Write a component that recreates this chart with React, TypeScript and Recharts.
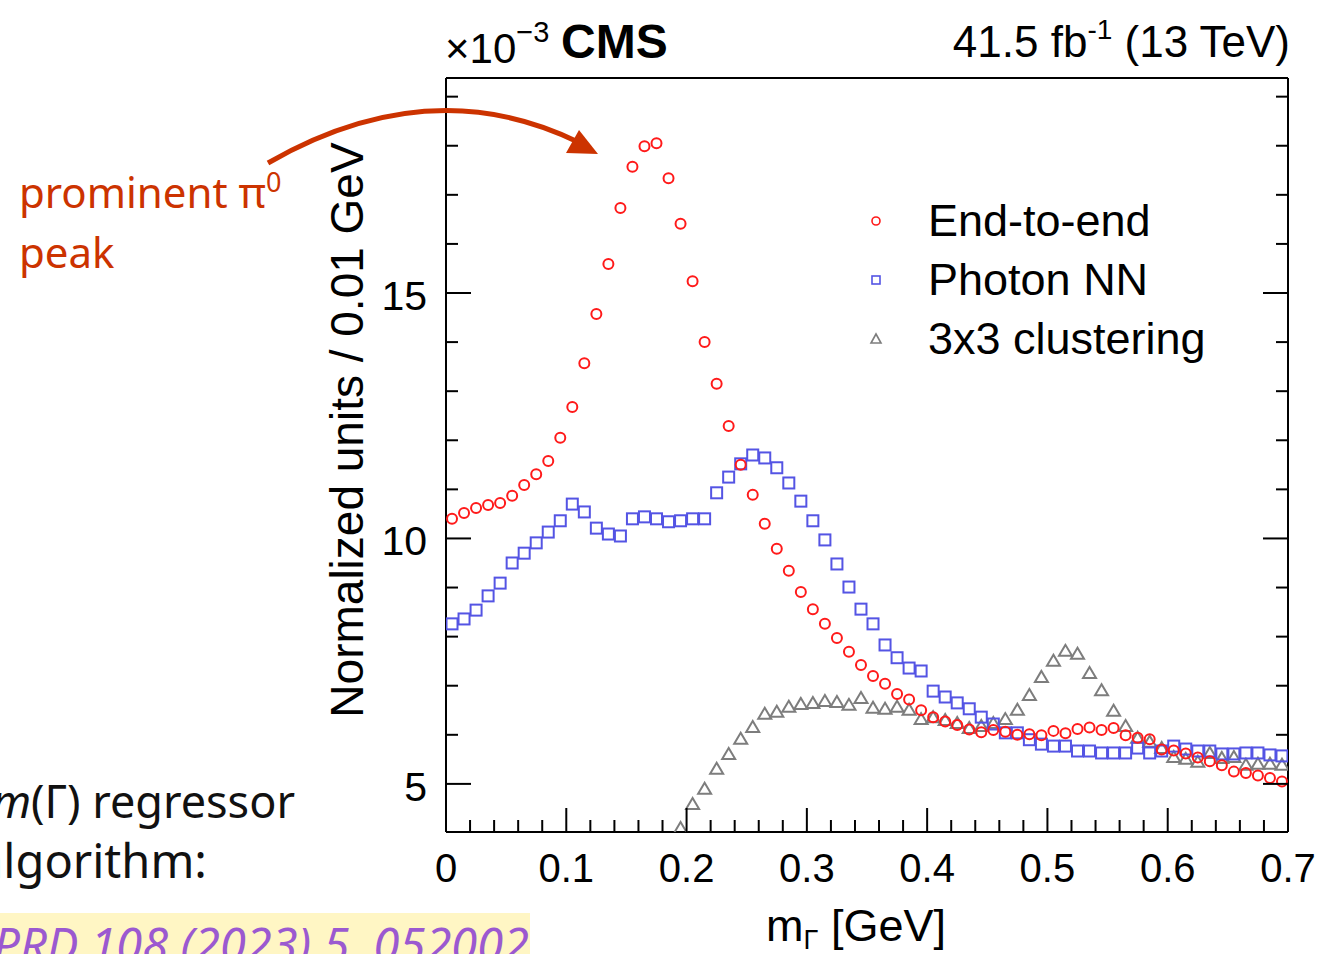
import React from "react";
import { ScatterChart, Scatter, XAxis, YAxis } from "recharts";

// bin centres of the reconstructed mass, 0.01 GeV wide
const massBins = [
  0.005, 0.015, 0.025, 0.035, 0.045, 0.055, 0.065, 0.075, 0.085, 0.095,
  0.105, 0.115, 0.125, 0.135, 0.145, 0.155, 0.165, 0.175, 0.185, 0.195,
  0.205, 0.215, 0.225, 0.235, 0.245, 0.255, 0.265, 0.275, 0.285, 0.295,
  0.305, 0.315, 0.325, 0.335, 0.345, 0.355, 0.365, 0.375, 0.385, 0.395,
  0.405, 0.415, 0.425, 0.435, 0.445, 0.455, 0.465, 0.475, 0.485, 0.495,
  0.505, 0.515, 0.525, 0.535, 0.545, 0.555, 0.565, 0.575, 0.585, 0.595,
  0.605, 0.615, 0.625, 0.635, 0.645, 0.655, 0.665, 0.675, 0.685, 0.695,
];

// normalized units (x 10^-3)
const endToEnd = [
  10.4, 10.52, 10.62, 10.68, 10.72, 10.87, 11.09, 11.31, 11.58, 12.05,
  12.68, 13.57, 14.57, 15.59, 16.73, 17.57, 17.99, 18.05, 17.34, 16.41,
  15.24, 14.0, 13.15, 12.29, 11.5, 10.89, 10.3, 9.79, 9.34, 8.91,
  8.56, 8.26, 7.97, 7.69, 7.42, 7.2, 7.04, 6.83, 6.72, 6.5,
  6.36, 6.27, 6.2, 6.11, 6.05, 6.1, 6.06, 6.0, 6.01, 5.99,
  6.08, 6.03, 6.12, 6.15, 6.1, 6.14, 5.99, 5.94, 5.91, 5.7,
  5.68, 5.62, 5.54, 5.46, 5.38, 5.25, 5.22, 5.17, 5.12, 5.05,
];

const photonNN = [
  8.26, 8.36, 8.54, 8.83, 9.09, 9.5, 9.7, 9.91, 10.13, 10.36,
  10.7, 10.54, 10.21, 10.09, 10.05, 10.4, 10.44, 10.4, 10.34, 10.36,
  10.4, 10.4, 10.93, 11.25, 11.52, 11.7, 11.64, 11.44, 11.13, 10.76,
  10.36, 9.97, 9.48, 9.01, 8.56, 8.26, 7.83, 7.57, 7.36, 7.3,
  6.89, 6.77, 6.65, 6.53, 6.36, 6.22, 6.04, 6.04, 5.9, 5.81,
  5.77, 5.77, 5.67, 5.67, 5.63, 5.63, 5.63, 5.73, 5.63, 5.67,
  5.77, 5.71, 5.67, 5.67, 5.61, 5.61, 5.63, 5.63, 5.59, 5.57,
];

// below the frame for the first bins
const clustering3x3 = [
  null, null, null, null, null, null, null, null, null, null,
  null, null, null, null, null, null, null, null, null, 4.1,
  4.59, 4.9, 5.31, 5.61, 5.92, 6.16, 6.43, 6.47, 6.57, 6.63,
  6.65, 6.69, 6.67, 6.61, 6.75, 6.55, 6.53, 6.57, 6.51, 6.32,
  6.36, 6.3, 6.24, 6.14, 6.18, 6.24, 6.32, 6.51, 6.81, 7.18,
  7.51, 7.71, 7.65, 7.26, 6.91, 6.49, 6.18, 5.94, 5.86, 5.73,
  5.55, 5.51, 5.45, 5.63, 5.53, 5.55, 5.39, 5.41, 5.41, 5.39,
];

const xTicks = [
  0, 0.02, 0.04, 0.06, 0.08, 0.1, 0.12, 0.14, 0.16, 0.18, 0.2, 0.22, 0.24,
  0.26, 0.28, 0.3, 0.32, 0.34, 0.36, 0.38, 0.4, 0.42, 0.44, 0.46, 0.48, 0.5,
  0.52, 0.54, 0.56, 0.58, 0.6, 0.62, 0.64, 0.66, 0.68, 0.7,
];
const xLabels = ["0", "0.1", "0.2", "0.3", "0.4", "0.5", "0.6", "0.7"];
const yTicks = [5, 6, 7, 8, 9, 10, 11, 12, 13, 14, 15, 16, 17, 18, 19];
const yLabels = [5, 10, 15];

const legendNames = ["End-to-end", "Photon NN", "3x3 clustering"];

const FONT = "'Liberation Sans', Arial, Helvetica, sans-serif";
const SLIDE_FONT = "'Noto Sans', 'Open Sans', sans-serif";
const RED = "#ff1a1a";
const BLUE = "#5454e4";
const GRAY = "#7d7d7d";
const ORANGE = "#cc3300";

const toPoints = (vals: (number | null)[]) =>
  massBins
    .map((m, i) => ({ m, v: vals[i] }))
    .filter((p) => p.v !== null);

const xLabelFor = (v: number) => {
  const s = v === 0 ? "0" : v.toFixed(1);
  return Math.abs(v * 10 - Math.round(v * 10)) < 1e-6 && xLabels.includes(s) ? s : null;
};

const Circle = (p: any) => (
  <circle cx={p.cx} cy={p.cy} r={5} fill="none" stroke={RED} strokeWidth={2} />
);
const Square = (p: any) => (
  <rect x={p.cx - 5.5} y={p.cy - 5.5} width={11} height={11} fill="none" stroke={BLUE} strokeWidth={2} />
);
const Triangle = (p: any) => (
  <polygon
    points={`${p.cx},${p.cy - 6} ${p.cx - 6.5},${p.cy + 5} ${p.cx + 6.5},${p.cy + 5}`}
    fill="none"
    stroke={GRAY}
    strokeWidth={2}
  />
);

const BottomTick = ({ x, y, payload }: any) => {
  const label = xLabelFor(payload.value);
  return (
    <g>
      <line x1={x} y1={y} x2={x} y2={y - (label ? 24 : 12)} stroke="#000" strokeWidth={2} />
      {label && (
        <text x={x} y={y + 50} textAnchor="middle" fontSize={40} fontFamily={FONT} fill="#000">
          {label}
        </text>
      )}
    </g>
  );
};

const TopTick = ({ x, y, payload }: any) => {
  const major = xLabelFor(payload.value) !== null;
  return <line x1={x} y1={y} x2={x} y2={y + (major ? 24 : 12)} stroke="#000" strokeWidth={2} />;
};

const LeftTick = ({ x, y, payload }: any) => {
  const major = yLabels.includes(payload.value);
  return (
    <g>
      <line x1={x} y1={y} x2={x + (major ? 25 : 12)} y2={y} stroke="#000" strokeWidth={2} />
      {major && (
        <text x={x - 19} y={y + 17} textAnchor="end" fontSize={41} fontFamily={FONT} fill="#000">
          {payload.value}
        </text>
      )}
    </g>
  );
};

const RightTick = ({ x, y, payload }: any) => {
  const major = yLabels.includes(payload.value);
  return <line x1={x} y1={y} x2={x - (major ? 25 : 12)} y2={y} stroke="#000" strokeWidth={2} />;
};

const legendMarkers = [
  (cx: number, cy: number) => <circle cx={cx} cy={cy} r={4} fill="none" stroke={RED} strokeWidth={1.6} />,
  (cx: number, cy: number) => (
    <rect x={cx - 4} y={cy - 4} width={8} height={8} fill="none" stroke={BLUE} strokeWidth={1.6} />
  ),
  (cx: number, cy: number) => (
    <polygon points={`${cx},${cy - 5} ${cx - 5},${cy + 4} ${cx + 5},${cy + 4}`} fill="none" stroke={GRAY} strokeWidth={1.6} />
  ),
];

const App = () => {
  const axisLine = { stroke: "#000", strokeWidth: 2 };
  return (
    <div style={{ position: "absolute", left: 0, top: 0, width: 1317, height: 954, overflow: "hidden", background: "#fff" }}>
      <ScatterChart width={1317} height={954} margin={{ top: 68, right: 19, bottom: 92, left: 386 }}>
        <XAxis
          dataKey="m"
          type="number"
          domain={[0, 0.7]}
          allowDataOverflow
          ticks={xTicks}
          interval={0}
          height={30}
          tickSize={0}
          tickMargin={0}
          tickLine={false}
          axisLine={axisLine}
          tick={<BottomTick />}
        />
        <XAxis
          xAxisId="top"
          orientation="top"
          type="number"
          domain={[0, 0.7]}
          allowDataOverflow
          ticks={xTicks}
          interval={0}
          height={10}
          tickSize={0}
          tickMargin={0}
          tickLine={false}
          axisLine={axisLine}
          tick={<TopTick />}
        />
        <YAxis
          dataKey="v"
          type="number"
          domain={[4.02, 19.38]}
          allowDataOverflow
          ticks={yTicks}
          interval={0}
          width={60}
          tickSize={0}
          tickMargin={0}
          tickLine={false}
          axisLine={axisLine}
          tick={<LeftTick />}
        />
        <YAxis
          yAxisId="right"
          orientation="right"
          type="number"
          domain={[4.02, 19.38]}
          allowDataOverflow
          ticks={yTicks}
          interval={0}
          width={10}
          tickSize={0}
          tickMargin={0}
          tickLine={false}
          axisLine={axisLine}
          tick={<RightTick />}
        />
        <Scatter name="3x3 clustering" data={toPoints(clustering3x3)} shape={Triangle} isAnimationActive={false} />
        <Scatter name="Photon NN" data={toPoints(photonNN)} shape={Square} isAnimationActive={false} />
        <Scatter name="End-to-end" data={toPoints(endToEnd)} shape={Circle} isAnimationActive={false} />
      </ScatterChart>

      <svg width={1317} height={954} style={{ position: "absolute", left: 0, top: 0, pointerEvents: "none" }}>
        {/* header */}
        <text x={445} y={63} fontSize={42} fontFamily={FONT} fill="#000">
          ×10<tspan dy={-21} fontSize={29}>−3</tspan>
        </text>
        <text x={561} y={58} fontSize={48} fontWeight="bold" fontFamily={FONT} fill="#000">CMS</text>
        <text x={1290} y={57} textAnchor="end" fontSize={44} fontFamily={FONT} fill="#000">
          41.5 fb<tspan dy={-18} fontSize={28}>-1</tspan>
          <tspan dy={18}> (13 TeV)</tspan>
        </text>

        {/* axis titles */}
        <text
          x={363}
          y={430}
          transform="rotate(-90, 363, 430)"
          textAnchor="middle"
          fontSize={46}
          fontFamily={FONT}
          fill="#000"
        >
          Normalized units / 0.01 GeV
        </text>
        <text x={766} y={941} fontSize={45} fontFamily={FONT} fill="#000">
          m<tspan dy={8} fontSize={27}>Γ</tspan>
          <tspan dy={-8}> [GeV]</tspan>
        </text>

        {/* legend */}
        {legendNames.map((name, i) => (
          <g key={name}>
            {legendMarkers[i](876, 221 + i * 59)}
            <text x={928} y={236 + i * 59} fontSize={45} fontFamily={FONT} fill="#000">
              {name}
            </text>
          </g>
        ))}

        {/* slide annotation */}
        <path d="M 268 163 Q 430 70 578 142" fill="none" stroke={ORANGE} strokeWidth={5} />
        <polygon points="598,154 579,130 566,153" fill={ORANGE} />
        <text x={19} y={208} fontSize={42} fontFamily={SLIDE_FONT} fill={ORANGE}>
          prominent π<tspan dy={-16} fontSize={27}>0</tspan>
        </text>
        <text x={19} y={268} fontSize={42} fontFamily={SLIDE_FONT} fill={ORANGE}>peak</text>

        <text x={295} y={818} textAnchor="end" fontSize={45} fontFamily={SLIDE_FONT} fill="#111">
          <tspan fontStyle="italic">m</tspan>(Γ) regressor
        </text>
        <text x={-23} y={878} fontSize={47} fontFamily={SLIDE_FONT} fill="#111">
          algorithm:
        </text>
        <rect x={0} y={913} width={530} height={41} fill="#fff6c4" />
        <text x={529} y={962} textAnchor="end" fontSize={47} fontStyle="italic" fontFamily={SLIDE_FONT} fill="#9b59d0">
          PRD 108 (2023) 5, 052002
        </text>
      </svg>
    </div>
  );
};

export default App;
